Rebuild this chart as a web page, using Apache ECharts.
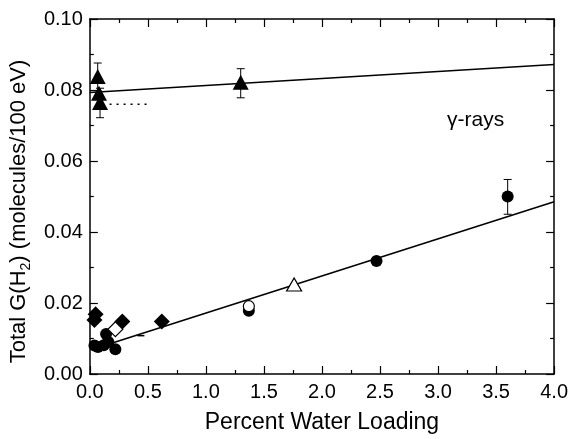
<!DOCTYPE html>
<html>
<head>
<meta charset="utf-8">
<script src="https://cdn.jsdelivr.net/npm/echarts@6/dist/echarts.min.js"></script>
<style>
html,body{margin:0;padding:0;background:#fff;}
#c{width:571px;height:439px;}
</style>
</head>
<body>
<div id="c"></div>
<script>
// ---- data ----
const xTicks = [0.0, 0.5, 1.0, 1.5, 2.0, 2.5, 3.0, 3.5, 4.0];
const yTicks = [0.00, 0.02, 0.04, 0.06, 0.08, 0.10];

// gamma-ray data (filled triangles)
const triFilledX = [0.068, 0.079, 0.088, 1.30];
const triFilledY = [0.0838, 0.0791, 0.0765, 0.0822];
// open triangle
const triOpenX = [1.76];
const triOpenY = [0.0252];
// filled circles
const circFilledX = [0.04, 0.07, 0.12, 0.14, 0.16, 0.22, 1.37, 2.47, 3.60];
const circFilledY = [0.0080, 0.0076, 0.0081, 0.0113, 0.0090, 0.0070, 0.0178, 0.0318, 0.0500];
// open circle
const circOpenX = [1.37];
const circOpenY = [0.0191];
// filled diamonds
const diaFilledX = [0.05, 0.04, 0.28, 0.62];
const diaFilledY = [0.0168, 0.0152, 0.0148, 0.0148];
// open diamond
const diaOpenX = [0.22];
const diaOpenY = [0.0126];
// dash markers
const dashX = [0.44];
const dashY = [0.0108];
// error bars: x, low, high
const errX = [0.068, 0.088, 1.30, 3.60];
const errLow = [0.0798, 0.0722, 0.0778, 0.0450];
const errHigh = [0.0876, 0.0805, 0.0860, 0.0548];
// fit lines
const gammaLineX = [0.0, 4.0];
const gammaLineY = [0.0793, 0.0872];
const waterLineX = [0.18, 4.0];
const waterLineY = [0.0086, 0.0485];
// dotted reference segment
const dottedX = [0.17, 0.50];
const dottedY = [0.0760, 0.0760];

const zip = (a, b) => a.map((v, i) => [v, b[i]]);
const FONT = '"Liberation Sans", Arial, sans-serif';

const chart = echarts.init(document.getElementById('c'), null, {renderer: 'canvas'});

const axisCommon = {
  axisLine: {show: true, onZero: false, lineStyle: {color: '#000', width: 1.5}},
  axisTick: {show: true, inside: true, length: 8, lineStyle: {color: '#000', width: 1.2}},
  minorTick: {show: true, splitNumber: 2, length: 4, lineStyle: {color: '#000', width: 1.2}},
  splitLine: {show: false},
  minorSplitLine: {show: false}
};

const scatter = (name, xs, ys, symbol, size, fill, z) => ({
  name, type: 'scatter', data: zip(xs, ys), symbol, symbolSize: size,
  itemStyle: {color: fill, borderColor: '#000', borderWidth: fill === '#fff' ? 1.2 : 0, opacity: 1},
  z: z || 3, silent: true
});

const option = {
  animation: false,
  backgroundColor: '#fff',
  grid: {left: 88, right: 13, top: 19, bottom: 61, containLabel: false},
  xAxis: [
    Object.assign({
      type: 'value', min: 0, max: 4, interval: 0.5, position: 'bottom',
      name: 'Percent Water Loading', nameLocation: 'middle', nameGap: 37,
      nameTextStyle: {fontFamily: FONT, fontSize: 23, color: '#000'},
      axisLabel: {show: true, margin: 8, fontFamily: FONT, fontSize: 20, color: '#000',
        formatter: v => xTicks.includes(v) ? v.toFixed(1) : ''}
    }, axisCommon),
    Object.assign({
      type: 'value', min: 0, max: 4, interval: 0.5, position: 'top',
      axisLabel: {show: false}
    }, axisCommon)
  ],
  yAxis: [
    Object.assign({
      type: 'value', min: 0, max: 0.1, interval: 0.02, position: 'left',
      name: '{n|Total G(H}{s|2}{n|) (molecules/100 eV)}', nameLocation: 'middle', nameGap: 52,
      nameTextStyle: {fontFamily: FONT, fontSize: 22, color: '#000', padding: [0, 30, 0, 0],
        rich: {
          n: {fontFamily: FONT, fontSize: 22, color: '#000', lineHeight: 28},
          s: {fontFamily: FONT, fontSize: 14, color: '#000', verticalAlign: 'bottom', lineHeight: 14}
        }},
      axisLabel: {show: true, margin: 7, fontFamily: FONT, fontSize: 20, color: '#000',
        formatter: v => v.toFixed(2)}
    }, axisCommon),
    Object.assign({
      type: 'value', min: 0, max: 0.1, interval: 0.02, position: 'right',
      axisLabel: {show: false}
    }, axisCommon)
  ],
  graphic: [{
    type: 'text', left: 447, top: 110, silent: true,
    style: {text: 'γ-rays', font: '21px ' + FONT, fill: '#000'}
  }],
  series: [
    {type: 'line', data: zip(gammaLineX, gammaLineY), symbol: 'none',
      lineStyle: {color: '#000', width: 1.6}, z: 2, silent: true},
    {type: 'line', data: zip(waterLineX, waterLineY), symbol: 'none',
      lineStyle: {color: '#000', width: 1.6}, z: 2, silent: true},
    {type: 'line', data: zip(dottedX, dottedY), symbol: 'none',
      lineStyle: {color: '#000', width: 1.6, type: [2, 5]}, z: 2, silent: true},
    {type: 'custom', z: 2, silent: true,
      data: errX.map((x, i) => [x, errLow[i], errHigh[i]]),
      renderItem: (params, api) => {
        const lo = api.coord([api.value(0), api.value(1)]);
        const hi = api.coord([api.value(0), api.value(2)]);
        const w = 4;
        const st = {stroke: '#000', lineWidth: 1};
        return {type: 'group', children: [
          {type: 'line', shape: {x1: lo[0], y1: lo[1], x2: hi[0], y2: hi[1]}, style: st},
          {type: 'line', shape: {x1: lo[0] - w, y1: lo[1], x2: lo[0] + w, y2: lo[1]}, style: st},
          {type: 'line', shape: {x1: hi[0] - w, y1: hi[1], x2: hi[0] + w, y2: hi[1]}, style: st}
        ]};
      }},
    scatter('triFilled', triFilledX, triFilledY, 'triangle', [16, 15], '#000', 4),
    scatter('triOpen', triOpenX, triOpenY, 'triangle', [15, 13], '#fff', 5),
    scatter('circFilled', circFilledX, circFilledY, 'circle', 12, '#000', 4),
    scatter('circOpen', circOpenX, circOpenY, 'circle', 11, '#fff', 5),
    scatter('diaFilled', diaFilledX, diaFilledY, 'diamond', [16, 16], '#000', 4),
    scatter('diaOpen', diaOpenX, diaOpenY, 'diamond', [15, 15], '#fff', 5),
    scatter('dash', dashX, dashY, 'rect', [7, 1.5], '#000', 4)
  ]
};
chart.setOption(option);
</script>
</body>
</html>
